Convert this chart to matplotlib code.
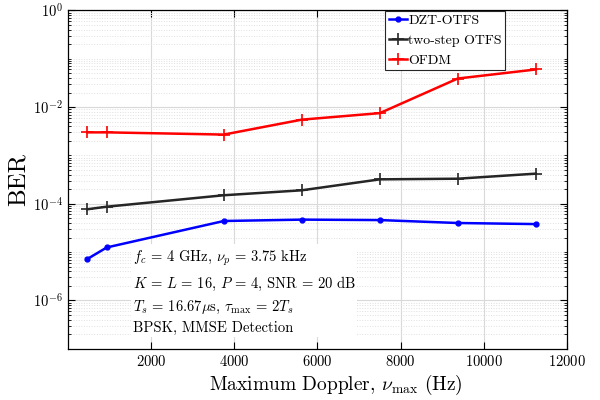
import matplotlib
matplotlib.use("Agg")
import matplotlib.pyplot as plt
from matplotlib.ticker import LogLocator, FixedLocator, NullFormatter

plt.rcParams["font.family"] = "serif"
plt.rcParams["font.serif"] = ["cmr10", "DejaVu Serif"]
plt.rcParams["mathtext.fontset"] = "cm"
plt.rcParams["axes.formatter.use_mathtext"] = True
plt.rcParams["axes.unicode_minus"] = False

# * Data
doppler = [469, 938, 3750, 5625, 7500, 9375, 11250]
ber_dzt = [7.2e-6, 1.25e-5, 4.4e-5, 4.7e-5, 4.6e-5, 4.0e-5, 3.8e-5]
ber_two_step = [7.7e-5, 8.7e-5, 1.5e-4, 1.9e-4, 3.2e-4, 3.3e-4, 4.2e-4]
ber_ofdm = [3.0e-3, 3.0e-3, 2.7e-3, 5.5e-3, 7.5e-3, 3.9e-2, 6.0e-2]

x_ticks = [2000, 4000, 6000, 8000, 10000, 12000]
y_ticks = [1e-6, 1e-4, 1e-2, 1e0]

info_lines = [
    r"$f_c \,=\, 4$ GHz, $\nu_p \,=\, 3.75$ kHz",
    r"$K \,=\, L \,=\, 16$, $P \,=\, 4$, SNR = 20 dB",
    r"$T_s \,=\, 16.67\mu$s, $\tau_{\max} \,=\, 2T_s$",
    "BPSK, MMSE Detection",
]

# * Plot
fig = plt.figure(figsize=(6, 4), dpi=100)
ax = fig.add_axes([0.113, 0.128, 0.832, 0.846])

ax.semilogy(doppler, ber_dzt, color="blue", marker=".", markersize=7, linewidth=1.8, label="DZT-OTFS")
ax.semilogy(doppler, ber_two_step, color="#262626", marker="+", markersize=8, markeredgewidth=1.2, linewidth=1.8, label="two-step OTFS")
ax.semilogy(doppler, ber_ofdm, color="red", marker="+", markersize=8, markeredgewidth=1.2, linewidth=1.8, label="OFDM")

ax.set_xlim(0, 12000)
ax.set_ylim(1e-7, 1e0)
ax.xaxis.set_major_locator(FixedLocator(x_ticks))
ax.yaxis.set_major_locator(FixedLocator(y_ticks))
ax.yaxis.set_minor_locator(LogLocator(base=10, subs=[1, 2, 3, 4, 5, 6, 7, 8, 9], numticks=50))
ax.yaxis.set_minor_formatter(NullFormatter())

ax.grid(True, which="major", color="#d9d9d9", linewidth=0.8)
ax.grid(True, which="minor", axis="y", color="#e0e0e0", linestyle=":", linewidth=0.7)
ax.set_axisbelow(True)
ax.tick_params(which="both", direction="in", top=True, right=True, labelsize=10.5)
ax.tick_params(which="major", length=5)
ax.tick_params(which="minor", length=2.5)
for sp in ax.spines.values():
    sp.set_linewidth(0.9)

ax.set_xlabel(r"Maximum Doppler, $\nu_{\max}$ (Hz)", fontsize=14)
ax.xaxis.set_label_coords(0.537, -0.07)
ax.set_ylabel("BER", fontsize=18, labelpad=2)

leg = ax.legend(loc="upper left", bbox_to_anchor=(0.635, 1.0), fontsize=10, handlelength=1.3,
                handletextpad=0.1, borderpad=0.25, labelspacing=0.5, fancybox=False,
                framealpha=1, edgecolor="#262626", borderaxespad=0.05)
leg.get_frame().set_linewidth(0.8)

ax.text(0.13, 0.04, "\n".join(info_lines), transform=ax.transAxes, fontsize=10.5,
        linespacing=1.5, va="bottom", ha="left",
        bbox=dict(facecolor="white", edgecolor="none", pad=1))

fig.savefig("out.png", dpi=100)
